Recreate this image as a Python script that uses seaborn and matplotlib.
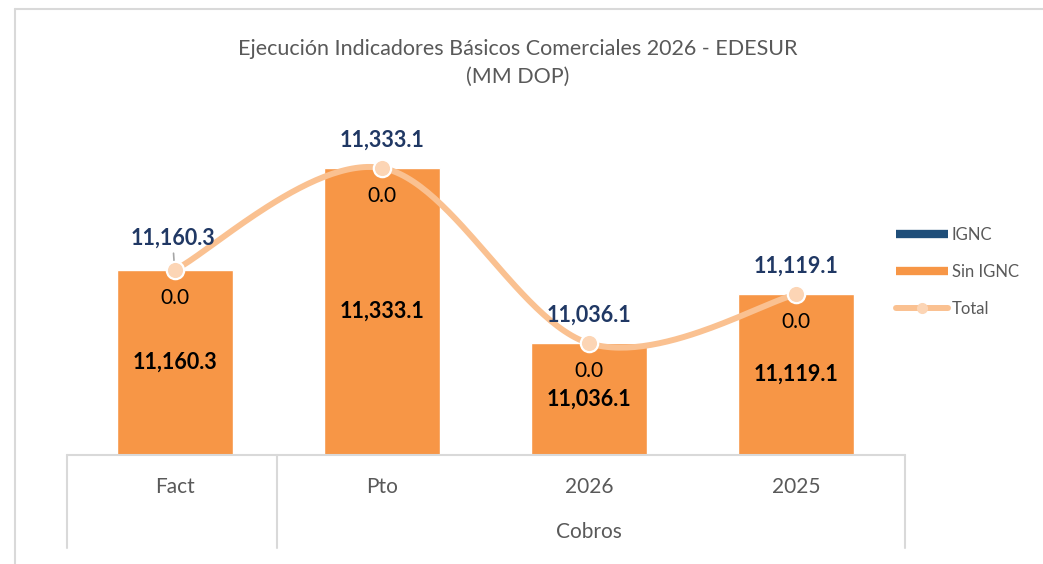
import numpy as np
import pandas as pd
import seaborn as sns
import matplotlib.pyplot as plt
from matplotlib.lines import Line2D
import matplotlib.transforms as mtransforms

# data
categories = ["Fact", "Pto", "2026", "2025"]
group_label = "Cobros"
ignc = [0.0, 0.0, 0.0, 0.0]
sin_ignc = [11160.3, 11333.1, 11036.1, 11119.1]
total = [a + b for a, b in zip(ignc, sin_ignc)]

title = "Ejecución Indicadores Básicos Comerciales 2026 - EDESUR\n(MM DOP)"

# colours
c_ignc = "#1F4E79"
c_sin = "#F79646"
c_line = "#FAC191"
c_marker = "#FCD5B5"
c_label = "#203864"
c_text = "#595959"
c_grid = "#D9D9D9"

sns.set_theme(style="white")
plt.rcParams["font.family"] = ["Lato", "DejaVu Sans"]

W, H = 1043, 564
fig = plt.figure(figsize=(W / 100, H / 100), dpi=100)

# plot area in pixels: x 71..900, y 100..455
ax = fig.add_axes([71 / W, (H - 455) / H, (900 - 71) / W, (455 - 100) / H])
ymin, ymax = 10846.9, 11448.3

df = pd.DataFrame({"cat": categories, "total": total, "sin": sin_ignc})
# stacked: total (IGNC on top) first, Sin IGNC over it
sns.barplot(data=df, x="cat", y="total", color=c_ignc, saturation=1, width=0.56, ax=ax)
sns.barplot(data=df, x="cat", y="sin", color=c_sin, saturation=1, width=0.56, ax=ax)

ax.set_ylim(ymin, ymax)
ax.set_xlim(-0.5, 3.5)
for s in ax.spines.values():
    s.set_visible(False)
ax.set_yticks([])
ax.set_xticks([])
ax.set_xlabel("")
ax.set_ylabel("")

# smoothed total line (Bezier smoothing like Excel)
xs = np.arange(len(total), dtype=float)
ys = np.array(total)
px = np.concatenate([[xs[0]], xs, [xs[-1]]])
py = np.concatenate([[ys[0]], ys, [ys[-1]]])
cx, cy = [], []
t = np.linspace(0, 1, 60)
for i in range(1, len(px) - 2):
    p0, p1, p2, p3 = [np.array([px[j], py[j]]) for j in range(i - 1, i + 3)]
    c1 = p1 + (p2 - p0) / 6
    c2 = p2 - (p3 - p1) / 6
    seg = ((1 - t) ** 3)[:, None] * p1 + (3 * (1 - t) ** 2 * t)[:, None] * c1 \
        + (3 * (1 - t) * t ** 2)[:, None] * c2 + (t ** 3)[:, None] * p2
    cx.extend(seg[:, 0])
    cy.extend(seg[:, 1])
ax.plot(cx, cy, color=c_line, lw=4.3, solid_capstyle="round", zorder=3)
ax.plot(xs, ys, ls="none", marker="o", ms=12.5, mfc=c_marker, mec="white", mew=1.6, zorder=5)

# labels
for i in range(len(categories)):
    if i == 0:
        ax.annotate(f"{total[i]:,.1f}", xy=(i, total[i]), xytext=(-1.5, 23), textcoords="offset points",
                    ha="center", va="center", fontsize=15.5, fontweight="bold", color=c_label, zorder=4,
                    arrowprops=dict(arrowstyle="-", color="#A6A6A6", lw=1.2, shrinkA=1, shrinkB=3))
    else:
        ax.annotate(f"{total[i]:,.1f}", xy=(i, total[i]), xytext=(0, 20), textcoords="offset points",
                    ha="center", va="center", fontsize=15.5, fontweight="bold", color=c_label)
    ax.annotate(f"{ignc[i]:,.1f}", xy=(i, total[i]), xytext=(0, -20), textcoords="offset points",
                ha="center", va="center", fontsize=15, color="black")
    ax.text(i, (ymin + sin_ignc[i]) / 2, f"{sin_ignc[i]:,.1f}", ha="center", va="center",
            fontsize=15.5, fontweight="bold", color="black")

# category axis (multi-level)
fig.add_artist(Line2D([67 / W, 905 / W], [1 - 455 / H] * 2, color=c_grid, lw=1.5))
for xp in (67, 277, 905):
    fig.add_artist(Line2D([xp / W] * 2, [1 - 455 / H, 1 - 548 / H], color=c_grid, lw=1.5))
trans = mtransforms.blended_transform_factory(ax.transData, fig.transFigure)
for i, c in enumerate(categories):
    ax.text(i, 1 - 487 / H, c, transform=trans, ha="center", va="center", fontsize=15, color=c_text)
ax.text(2, 1 - 532 / H, group_label, transform=trans, ha="center", va="center", fontsize=15, color=c_text)

# chart border
fig.add_artist(Line2D([15 / W, 1], [1 - 9 / H] * 2, color=c_grid, lw=1.5))
fig.add_artist(Line2D([15 / W] * 2, [1 - 9 / H, 0], color=c_grid, lw=1.5))

fig.text(518 / W, 1 - 63 / H, title, ha="center", va="center", fontsize=15.5, color=c_text, linespacing=1.45)

handles = [
    Line2D([], [], color=c_ignc, lw=6, solid_capstyle="butt"),
    Line2D([], [], color=c_sin, lw=6, solid_capstyle="butt"),
    Line2D([], [], color=c_line, lw=4.3, marker="o", ms=7, mfc=c_marker, mec=c_marker),
]
fig.legend(handles, ["IGNC", "Sin IGNC", "Total"], loc="upper left",
           bbox_to_anchor=(881 / W, 1 - 212 / H), frameon=False, fontsize=12,
           handlelength=3.1, handletextpad=0.25, labelspacing=1.25, labelcolor=c_text)

fig.savefig("out.png", dpi=100)
